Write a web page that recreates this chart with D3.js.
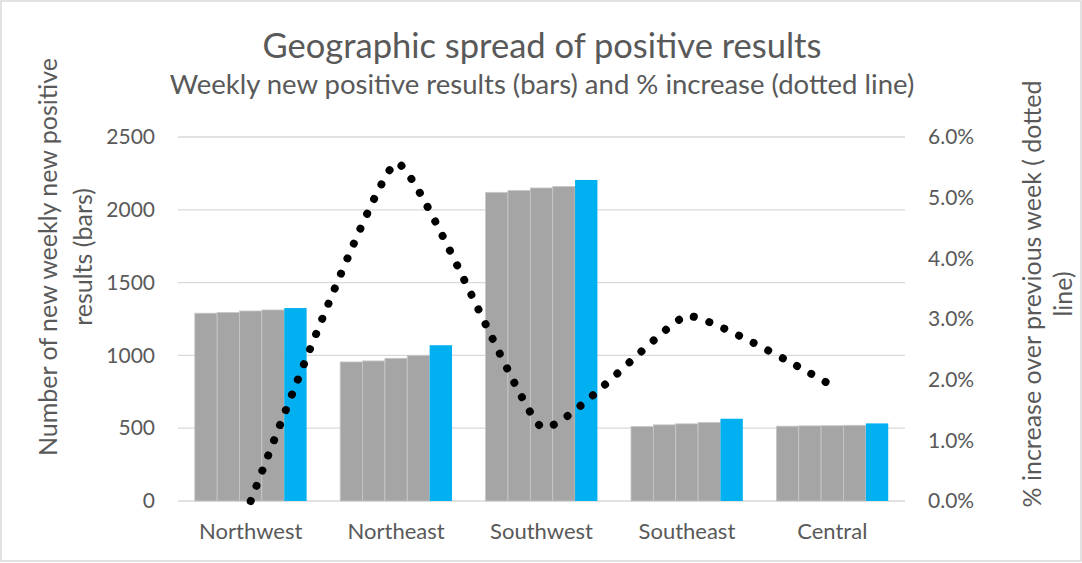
<!DOCTYPE html>
<html>
<head>
<meta charset="utf-8">
<script src="https://cdn.jsdelivr.net/npm/d3@7"></script>
<style>
  body { margin: 0; background: #fff; }
  text { font-family: Lato, "Open Sans", sans-serif; fill: #595959; }
</style>
</head>
<body>
<svg class="chart"></svg>
<script>
var regions = ["Northwest", "Northeast", "Southwest", "Southeast", "Central"];
var weeks = ["wk1", "wk2", "wk3", "wk4", "wk5"];

// weekly new positive results, one array per week (last week is the blue bar)
var wk1 = [1290, 955, 2120, 512, 514];
var wk2 = [1295, 962, 2133, 523, 516];
var wk3 = [1305, 980, 2150, 530, 517];
var wk4 = [1312, 1000, 2160, 540, 520];
var wk5 = [1325, 1070, 2205, 565, 533];

// % increase over previous week (dotted line)
var pctIncrease = [0.000, 0.0557, 0.0122, 0.0305, 0.0190];

var leftTicks = [0, 500, 1000, 1500, 2000, 2500];
var rightTicks = [0, 0.01, 0.02, 0.03, 0.04, 0.05, 0.06];

var W = 1082, H = 563;
var margin = {top: 137, right: 177, bottom: 62, left: 178},
    width = W - margin.left - margin.right,
    height = H - margin.top - margin.bottom;

var series = [wk1, wk2, wk3, wk4, wk5];
var rows = regions.map(function(r, i) {
  return {region: r, values: series.map(function(s, j) { return {week: weeks[j], value: s[i]}; })};
});

var svg = d3.select(".chart")
    .attr("width", W)
    .attr("height", H);

svg.append("rect")
    .attr("x", 1).attr("y", 1)
    .attr("width", W - 2).attr("height", H - 3)
    .attr("fill", "#fff")
    .attr("stroke", "#d9d9d9")
    .attr("stroke-width", 1.5);

var chart = svg.append("g")
    .attr("transform", "translate(" + margin.left + "," + margin.top + ")");

var x = d3.scaleBand()
    .domain(regions)
    .range([0, width]);

var bw = x.bandwidth();
var gap = bw * 1.5 / 6.5;   // Excel gap width 150%
var xs = d3.scaleBand()
    .domain(weeks)
    .range([gap / 2, bw - gap / 2]);

var y = d3.scaleLinear()
    .domain([0, 2500])
    .range([height, 0]);

var y2 = d3.scaleLinear()
    .domain([0, 0.06])
    .range([height, 0]);

// gridlines
chart.selectAll(".grid")
    .data(leftTicks)
    .enter().append("line")
    .attr("class", "grid")
    .attr("x1", 0).attr("x2", width)
    .attr("y1", function(d) { return y(d); })
    .attr("y2", function(d) { return y(d); })
    .attr("stroke", "#d9d9d9")
    .attr("stroke-width", 1.3);

// bars
var groups = chart.selectAll(".region")
    .data(rows)
    .enter().append("g")
    .attr("class", "region")
    .attr("transform", function(d) { return "translate(" + x(d.region) + ",0)"; });

groups.selectAll(".bar")
    .data(function(d) { return d.values; })
    .enter().append("rect")
    .attr("class", "bar")
    .attr("x", function(d) { return xs(d.week); })
    .attr("y", function(d) { return y(d.value); })
    .attr("width", xs.bandwidth())
    .attr("height", function(d) { return height - y(d.value); })
    .attr("fill", function(d) { return d.week == "wk5" ? "#00b0f0" : "#a5a5a5"; })
    .attr("stroke", function(d) { return d.week == "wk5" ? "none" : "#c8c8c8"; })
    .attr("stroke-width", 0.8);

// dotted line
var line = d3.line()
    .x(function(d, i) { return x(regions[i]) + bw / 2; })
    .y(function(d) { return y2(d); })
    .curve(d3.curveCardinal.tension(0.6));

chart.append("path")
    .datum(pctIncrease)
    .attr("d", line)
    .attr("fill", "none")
    .attr("stroke", "#000")
    .attr("stroke-width", 8)
    .attr("stroke-linecap", "round")
    .attr("stroke-dasharray", "0.01 16.3");

// axes (labels only)
var yAxis = d3.axisLeft(y).tickValues(leftTicks).tickSize(0).tickPadding(23)
    .tickFormat(d3.format("d"));
var yAxis2 = d3.axisRight(y2).tickValues(rightTicks).tickSize(0).tickPadding(23)
    .tickFormat(d3.format(".1%"));
var xAxis = d3.axisBottom(x).tickSize(0).tickPadding(22);

function styleAxis(g) {
  g.select(".domain").remove();
  g.selectAll("text")
    .style("font-family", "Lato, sans-serif")
    .style("font-size", "21px")
    .attr("fill", "#595959");
}

chart.append("g").attr("class", "y axis").call(yAxis).call(styleAxis);
chart.append("g").attr("class", "y2 axis")
    .attr("transform", "translate(" + width + ",0)")
    .call(yAxis2).call(styleAxis);
chart.append("g").attr("class", "x axis")
    .attr("transform", "translate(0," + height + ")")
    .call(xAxis).call(styleAxis);
chart.selectAll(".x.axis text").style("font-size", "22px");

// titles
svg.append("text")
    .attr("x", 542).attr("y", 58)
    .attr("text-anchor", "middle")
    .style("font-size", "34.5px")
    .text("Geographic spread of positive results");

svg.append("text")
    .attr("x", 542).attr("y", 94)
    .attr("text-anchor", "middle")
    .style("font-size", "27.5px")
    .text("Weekly new positive results (bars) and % increase (dotted line)");

function vtitle(cx, cy, txt) {
  svg.append("text")
    .attr("transform", "translate(" + cx + "," + cy + ") rotate(-90)")
    .attr("text-anchor", "middle")
    .attr("dy", "0.35em")
    .style("font-size", "25px")
    .text(txt);
}
vtitle(48, 257, "Number of new weekly new positive");
vtitle(83, 257, "results (bars)");
vtitle(1032, 294, "% increase over previous week ( dotted");
vtitle(1063, 294, "line)");
</script>
</body>
</html>
